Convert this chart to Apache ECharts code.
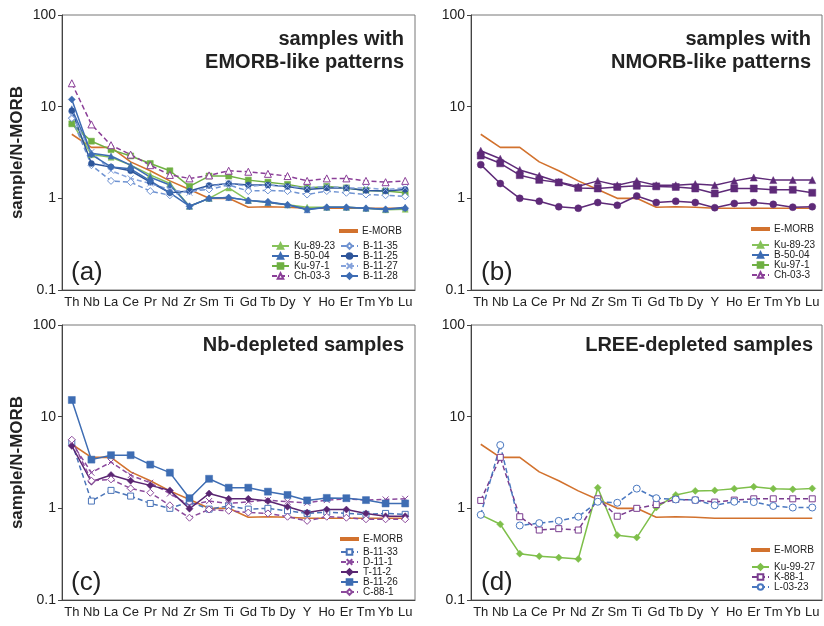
<!DOCTYPE html>
<html><head><meta charset="utf-8">
<script src="https://cdn.jsdelivr.net/npm/echarts@6/dist/echarts.min.js"></script>
<style>html,body{margin:0;padding:0;background:#fff}#c{width:824px;height:626px}</style>
</head><body><div id="c"></div>
<script>
const categories = ['Th','Nb','La','Ce','Pr','Nd','Zr','Sm','Ti','Gd','Tb','Dy','Y','Ho','Er','Tm','Yb','Lu'];
const yTickLabels = ['0.1','1','10','100'];
const emorb = [5.0,3.6,3.6,2.5,2.0,1.55,1.25,1.0,1.0,0.8,0.81,0.8,0.78,0.78,0.78,0.78,0.78,0.78];

// panel (a)
const ku8923 = [6.8,3.0,2.8,2.3,1.8,1.45,0.82,1.0,1.3,0.95,0.9,0.85,0.8,0.8,0.8,0.78,0.75,0.76];
const b5004  = [9.5,3.1,2.9,2.3,1.7,1.4,0.82,1.0,1.02,0.95,0.9,0.85,0.75,0.8,0.8,0.78,0.76,0.8];
const ku971  = [6.5,4.2,3.4,2.9,2.4,2.0,1.35,1.75,1.75,1.58,1.5,1.42,1.3,1.35,1.3,1.22,1.2,1.15];
const ch033  = [18,6.4,3.8,3.0,2.3,1.8,1.65,1.78,2.0,1.95,1.85,1.75,1.55,1.65,1.65,1.55,1.5,1.55];
const b1135  = [7.5,2.3,1.55,1.5,1.2,1.08,1.2,1.25,1.4,1.2,1.22,1.2,1.1,1.2,1.15,1.1,1.08,1.05];
const b1125  = [9.0,2.4,2.2,2.0,1.5,1.15,1.2,1.38,1.45,1.4,1.4,1.35,1.25,1.3,1.3,1.22,1.2,1.25];
const b1127  = [8.0,3.2,2.0,1.65,1.45,1.25,1.15,1.35,1.45,1.35,1.4,1.35,1.3,1.35,1.3,1.3,1.25,1.3];
const b1128  = [12,3.0,2.2,2.1,1.55,1.15,0.82,1.0,1.02,0.95,0.92,0.85,0.76,0.8,0.8,0.78,0.76,0.78];

// panel (b)
const nTri = [3.3,2.7,2.04,1.76,1.51,1.35,1.55,1.39,1.55,1.39,1.39,1.43,1.39,1.55,1.69,1.58,1.58,1.58];
const nSq  = [2.93,2.41,1.79,1.59,1.49,1.3,1.28,1.33,1.37,1.35,1.33,1.28,1.13,1.28,1.28,1.24,1.24,1.15];
const nCir = [2.33,1.45,1.0,0.93,0.81,0.78,0.9,0.84,1.06,0.9,0.93,0.9,0.79,0.88,0.9,0.86,0.8,0.81];

// panel (c)
const b1133 = [5.2,1.2,1.57,1.36,1.13,1.0,1.18,0.98,1.06,0.98,1.0,0.94,0.88,0.91,0.88,0.86,0.88,0.86];
const d111  = [5.2,2.45,3.2,2.3,1.9,1.45,1.08,1.2,1.13,1.18,1.23,1.18,1.15,1.23,1.27,1.23,1.25,1.27];
const t112  = [4.8,1.95,2.31,2.0,1.78,1.57,0.99,1.45,1.27,1.27,1.2,1.04,0.9,0.97,0.97,0.88,0.82,0.82];
const b1126 = [15.2,3.4,3.8,3.8,3.0,2.45,1.29,2.1,1.68,1.68,1.52,1.4,1.22,1.3,1.29,1.23,1.13,1.13];
const c881  = [5.6,2.0,2.07,1.65,1.48,1.08,0.79,0.97,0.94,0.9,0.88,0.81,0.73,0.81,0.79,0.76,0.76,0.76];

// panel (d)
const ku9927 = [0.85,0.67,0.32,0.30,0.29,0.28,1.68,0.51,0.48,1.02,1.4,1.55,1.57,1.64,1.72,1.64,1.61,1.65];
const k881   = [1.22,3.6,0.81,0.58,0.6,0.58,1.27,0.82,1.0,1.1,1.25,1.23,1.17,1.23,1.27,1.27,1.27,1.27];
const l0323  = [0.85,4.9,0.65,0.69,0.73,0.81,1.18,1.15,1.64,1.29,1.25,1.23,1.08,1.18,1.17,1.06,1.02,1.02];

const FONT = 'Liberation Sans, Arial, Helvetica, sans-serif';
const TXT = '#222';
const C = {
  emorb:'#d2722e', green1:'#86c25a', green2:'#6fb043', blue:'#3d6cb3', blueD:'#2d559a',
  blueL:'#6f93d2', blueL2:'#86a3dc', purple:'#8b3f98', purpleD:'#5a2672', purpleN:'#5e2a78'
};
const XSYM = 'path://M0,0L10,10M10,0L0,10';

const grids = [
  {left:62, top:15, width:353, height:275},
  {left:471, top:15, width:351, height:275},
  {left:62, top:325, width:353, height:275},
  {left:471, top:325, width:351, height:275}
];

function xAx(i){
  return {type:'category', gridIndex:i, data:categories, boundaryGap:true,
    axisLine:{lineStyle:{color:'#444', width:1}},
    axisTick:{alignWithLabel:true, length:4, lineStyle:{color:'#444'}},
    axisLabel:{interval:0, color:TXT, fontSize:13, fontFamily:FONT, margin:6},
    splitLine:{show:false}};
}
function yAx(i, withName){
  const o = {type:'log', logBase:10, gridIndex:i, min:0.1, max:100,
    axisLine:{show:true, lineStyle:{color:'#444', width:1}},
    axisTick:{show:true, length:4, lineStyle:{color:'#444'}},
    minorTick:{show:false},
    axisLabel:{color:TXT, fontSize:14, fontFamily:FONT, margin:6,
      formatter:function(v){ const s = yTickLabels.find(t=>Math.abs(parseFloat(t)-v)<1e-6*Math.max(1,v)); return s||''; }},
    splitLine:{show:false}};
  if(withName){
    o.name='sample/N-MORB'; o.nameLocation='middle'; o.nameGap=36;
    o.nameTextStyle={fontSize:17, fontWeight:'bold', color:TXT, fontFamily:FONT};
  }
  return o;
}

function mk(name, data, gi, color, symbol, opt){
  opt = opt || {};
  const open = !!opt.open;
  return {
    name:name, type:'line', xAxisIndex:gi, yAxisIndex:gi, data:data,
    symbol:symbol||'none', symbolSize:opt.size||6, showSymbol:!!symbol,
    lineStyle:{color:color, width:opt.width||1.5, type:opt.dash?[5,3]:'solid'},
    itemStyle:{color: open? '#fff' : color, borderColor:color, borderWidth: open?1:0.5},
    emphasis:{disabled:true}, animation:false, z:opt.z||2
  };
}

const series = [];
for(let g=0; g<4; g++){
  series.push(mk('E-MORB', emorb, g, C.emorb, null, {width:1.6, z:1}));
}
// (a)
series.push(mk('Ku-89-23', ku8923, 0, C.green1, 'triangle', {size:6}));
series.push(mk('B-50-04', b5004, 0, C.blue, 'triangle', {size:6}));
series.push(mk('Ku-97-1', ku971, 0, C.green2, 'rect', {size:6}));
series.push(mk('Ch-03-3', ch033, 0, C.purple, 'triangle', {size:7, open:true, dash:true}));
series.push(mk('B-11-35', b1135, 0, C.blueL, 'diamond', {size:7, open:true, dash:true}));
series.push(mk('B-11-25', b1125, 0, C.blueD, 'circle', {size:6}));
series.push(mk('B-11-27', b1127, 0, C.blueL2, XSYM, {size:6, open:true, dash:true}));
series.push(mk('B-11-28', b1128, 0, C.blue, 'diamond', {size:7}));
// (b)
series.push(mk('nb-tri', nTri, 1, C.purpleN, 'triangle', {size:7}));
series.push(mk('nb-sq', nSq, 1, C.purpleN, 'rect', {size:7}));
series.push(mk('nb-cir', nCir, 1, C.purpleN, 'circle', {size:7}));
// (c)
series.push(mk('B-11-33', b1133, 2, '#4a74b8', 'rect', {size:6, open:true, dash:true}));
series.push(mk('D-11-1', d111, 2, '#8b4a9e', XSYM, {size:6, open:true, dash:true}));
series.push(mk('T-11-2', t112, 2, C.purpleD, 'diamond', {size:7}));
series.push(mk('B-11-26', b1126, 2, '#3e6db3', 'rect', {size:7}));
series.push(mk('C-88-1', c881, 2, '#8c4a9c', 'diamond', {size:7, open:true, dash:true}));
// (d)
series.push(mk('Ku-99-27', ku9927, 3, '#7ebf4a', 'diamond', {size:7}));
series.push(mk('K-88-1', k881, 3, '#7a3d8f', 'rect', {size:6, open:true, dash:true}));
series.push(mk('L-03-23', l0323, 3, '#4a78c0', 'circle', {size:7, open:true, dash:true}));

function lg(left, top, names, lineOnly){
  const o = {orient:'vertical', left:left, top:top, data:names, itemWidth:17, itemHeight:lineOnly?2:7, itemGap:0,
    padding:0, selectedMode:false,
    textStyle:{fontSize:10, lineHeight:8, color:TXT, fontFamily:FONT}};
  if(lineOnly){ o.icon = 'rect'; }
  return o;
}
const legends = [
  lg(339, 226, ['E-MORB'], true),
  lg(271, 241, ['Ku-89-23','B-50-04','Ku-97-1','Ch-03-3']),
  lg(340, 241, ['B-11-35','B-11-25','B-11-27','B-11-28']),
  lg(751, 224, ['E-MORB'], true),
  lg(751, 240, ['Ku-89-23','B-50-04','Ku-97-1','Ch-03-3']),
  lg(340, 534, ['E-MORB'], true),
  lg(340, 547, ['B-11-33','D-11-1','T-11-2','B-11-26','C-88-1']),
  lg(751, 545, ['E-MORB'], true),
  lg(751, 562, ['Ku-99-27','K-88-1','L-03-23'])
];

function ttl(x, y, text){
  return {type:'text', x:x, y:y, silent:true, style:{text:text, textAlign:'right', textVerticalAlign:'top',
    font:'bold 20px '+FONT, lineHeight:23, fill:TXT}};
}
function plab(x, y, text){
  return {type:'text', x:x, y:y, silent:true, style:{text:text, textAlign:'left', textVerticalAlign:'middle',
    font:'26px '+FONT, fill:TXT}};
}

const chart = echarts.init(document.getElementById('c'), null, {renderer:'canvas'});
chart.setOption({
  backgroundColor:'#fff',
  animation:false,
  grid: grids.map(g=>Object.assign({show:true, borderColor:'#777', borderWidth:1, backgroundColor:'transparent', containLabel:false}, g)),
  xAxis:[xAx(0),xAx(1),xAx(2),xAx(3)],
  yAxis:[yAx(0,true),yAx(1,false),yAx(2,true),yAx(3,false)],
  legend: legends,
  series: series,
  graphic: [
    ttl(404, 28, 'samples with\nEMORB-like patterns'),
    ttl(811, 28, 'samples with\nNMORB-like patterns'),
    ttl(404, 334, 'Nb-depleted samples'),
    ttl(813, 334, 'LREE-depleted samples'),
    plab(71, 273, '(a)'), plab(481, 273, '(b)'), plab(71, 583, '(c)'), plab(481, 583, '(d)')
  ]
});
</script></body></html>
